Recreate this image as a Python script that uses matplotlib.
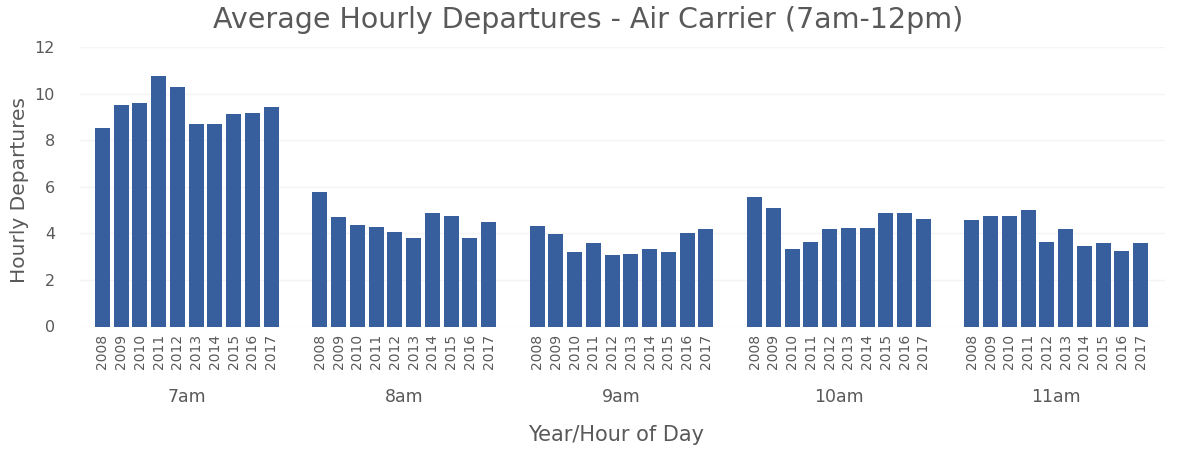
import matplotlib
matplotlib.use("Agg")
import matplotlib.pyplot as plt
import matplotlib.transforms as mtransforms

hours = ["7am", "8am", "9am", "10am", "11am"]
years = ["2008", "2009", "2010", "2011", "2012", "2013", "2014", "2015", "2016", "2017"]
dep_7am = [8.53, 9.50, 9.60, 10.75, 10.30, 8.72, 8.72, 9.12, 9.17, 9.43]
dep_8am = [5.79, 4.72, 4.36, 4.26, 4.06, 3.82, 4.89, 4.76, 3.82, 4.50]
dep_9am = [4.33, 3.96, 3.19, 3.60, 3.07, 3.12, 3.32, 3.19, 4.02, 4.19]
dep_10am = [5.58, 5.09, 3.32, 3.63, 4.18, 4.23, 4.23, 4.89, 4.86, 4.60]
dep_11am = [4.56, 4.73, 4.73, 5.00, 3.65, 4.20, 3.45, 3.57, 3.23, 3.57]
series = [dep_7am, dep_8am, dep_9am, dep_10am, dep_11am]
y_ticks = [0, 2, 4, 6, 8, 10, 12]

bar_color = "#375f9e"
text_color = "#595959"
group_pitch = 11.6

fig = plt.figure(figsize=(11.84, 4.49), dpi=100)
ax = fig.add_axes([80 / 1184, 122.5 / 449, (1165 - 80) / 1184, (401.7 - 122.5) / 449])

xpos, xlabels, centers = [], [], []
for g, (h, vals) in enumerate(zip(hours, series)):
    xs = [g * group_pitch + i for i in range(len(years))]
    ax.bar(xs, vals, width=0.8, color=bar_color, zorder=2)
    xpos += xs
    xlabels += years
    centers.append(sum(xs) / len(xs))

ax.set_xlim(-1.2, 56.7)
ax.set_ylim(0, 12)
ax.set_yticks(y_ticks)
ax.set_yticklabels([str(t) for t in y_ticks], fontsize=11.5, color=text_color)
ax.set_xticks(xpos)
ax.set_xticklabels(xlabels, rotation=90, fontsize=10, color=text_color)
ax.tick_params(axis="both", length=0)
ax.tick_params(axis="y", pad=18)
ax.tick_params(axis="x", pad=5)
for s in ax.spines.values():
    s.set_visible(False)
ax.yaxis.grid(True, color="#f4f4f4", linewidth=1, zorder=0)
ax.set_axisbelow(True)

trans = mtransforms.blended_transform_factory(ax.transData, fig.transFigure)
for c, h in zip(centers, hours):
    ax.text(c, 1 - 397 / 449, h, transform=trans, ha="center", va="center",
            fontsize=12.5, color=text_color)

fig.text(616 / 1184, 1 - 435 / 449, "Year/Hour of Day", ha="center", va="center",
         fontsize=15, color=text_color)
fig.text(20 / 1184, 1 - 190 / 449, "Hourly Departures", ha="center", va="center",
         rotation=90, fontsize=14.5, color=text_color)
fig.text(588 / 1184, 1 - 20 / 449, "Average Hourly Departures - Air Carrier (7am-12pm)",
         ha="center", va="center", fontsize=20.5, color=text_color)

fig.savefig("out.png", dpi=100)
